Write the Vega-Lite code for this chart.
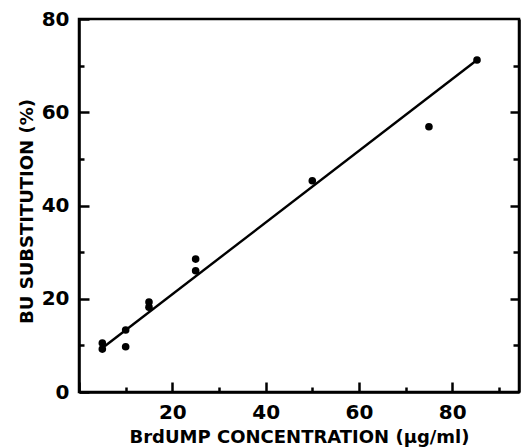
{
  "$schema": "https://vega.github.io/schema/vega-lite/v6.json",
  "width": 440,
  "height": 373,
  "autosize": {"type": "none"},
  "padding": {"left": 79, "top": 19, "right": 6, "bottom": 56},
  "background": "white",
  "config": {
    "view": {"stroke": "black", "strokeWidth": 2.5},
    "font": "DejaVu Sans",
    "axis": {
      "domainColor": "black",
      "domainWidth": 2.5,
      "tickColor": "black",
      "tickWidth": 2.5,
      "grid": false,
      "labelFont": "DejaVu Sans",
      "labelFontWeight": "bold",
      "labelFontSize": 20,
      "labelColor": "black",
      "titleFont": "DejaVu Sans",
      "titleFontWeight": "bold",
      "titleFontSize": 18,
      "titleColor": "black"
    }
  },
  "datasets": {
    "points": [
      {"conc": 5, "bu": 10.5},
      {"conc": 5, "bu": 9.2},
      {"conc": 10, "bu": 13.3},
      {"conc": 10, "bu": 9.7},
      {"conc": 15, "bu": 19.3},
      {"conc": 15, "bu": 18.2},
      {"conc": 25, "bu": 28.5},
      {"conc": 25, "bu": 26.0},
      {"conc": 50, "bu": 45.3},
      {"conc": 75, "bu": 56.9},
      {"conc": 85.3, "bu": 71.2}
    ],
    "fit": [
      {"conc": 5.5, "bu": 9.8},
      {"conc": 85.3, "bu": 71.2}
    ]
  },
  "layer": [
    {
      "data": {"name": "points"},
      "mark": {"type": "circle", "color": "black", "opacity": 1, "size": 58},
      "encoding": {
        "x": {
          "field": "conc",
          "type": "quantitative",
          "title": "BrdUMP CONCENTRATION (µg/ml)",
          "scale": {"domain": [0, 94.3], "nice": false, "zero": false},
          "axis": {
            "values": [0, 10, 20, 30, 40, 50, 60, 70, 80, 90],
            "labelExpr": "datum.value % 20 === 0 && datum.value > 0 ? datum.label : ''",
            "tickSize": {"condition": {"test": "datum.value % 20 === 0", "value": -10}, "value": -5},
            "labelPadding": 20,
            "titleBaseline": "alphabetic",
            "titleY": 50
          }
        },
        "y": {
          "field": "bu",
          "type": "quantitative",
          "title": "BU SUBSTITUTION (%)",
          "scale": {"domain": [0, 80], "nice": false},
          "axis": {
            "values": [0, 10, 20, 30, 40, 50, 60, 70, 80],
            "labelExpr": "datum.value % 20 === 0 ? datum.label : ''",
            "tickSize": {"condition": {"test": "datum.value % 20 === 0", "value": -10}, "value": -5},
            "labelPadding": 20,
            "titleBaseline": "alphabetic",
            "titleX": -47,
            "titleY": 192
          }
        }
      }
    },
    {
      "data": {"name": "fit"},
      "mark": {"type": "line", "color": "black", "strokeWidth": 2.4},
      "encoding": {
        "x": {"field": "conc", "type": "quantitative"},
        "y": {
          "field": "bu",
          "type": "quantitative",
          "axis": {
            "orient": "right",
            "values": [10, 20, 30, 40, 50, 60, 70],
            "labels": false,
            "title": null,
            "tickSize": {"condition": {"test": "datum.value % 20 === 0", "value": -9}, "value": -6}
          }
        }
      }
    }
  ],
  "resolve": {"axis": {"y": "independent"}}
}
